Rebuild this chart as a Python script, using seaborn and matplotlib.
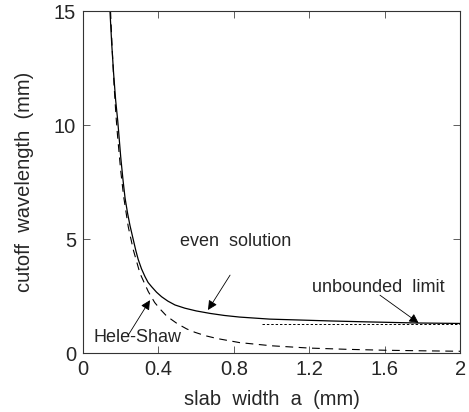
import matplotlib
matplotlib.use("Agg")
import matplotlib.pyplot as plt
import seaborn as sns
import pandas as pd

# even solution (solid)
even_a = [0.143, 0.152, 0.162, 0.173, 0.184, 0.20, 0.212, 0.223, 0.236, 0.249, 0.267, 0.28, 0.293,
          0.31, 0.329, 0.345, 0.364, 0.39, 0.417, 0.45, 0.488, 0.54, 0.60, 0.674, 0.75, 0.83,
          0.99, 1.15, 1.31, 1.5, 1.77, 2.0]
even_l = [15.0, 13.6, 12.3, 11.1, 10.2, 8.6, 7.6, 6.8, 6.15, 5.6, 4.96, 4.5, 4.1,
          3.7, 3.35, 3.1, 2.91, 2.67, 2.47, 2.28, 2.11, 1.97, 1.85, 1.74, 1.65, 1.58,
          1.49, 1.45, 1.41, 1.37, 1.32, 1.30]

# Hele-Shaw (dashed)
hs_a = [0.146, 0.155, 0.165, 0.175, 0.184, 0.20, 0.215, 0.24, 0.267, 0.302, 0.346, 0.38, 0.41,
        0.444, 0.50, 0.55, 0.594, 0.65, 0.71, 0.83, 1.0, 1.2, 1.4, 1.6, 1.8, 2.0]
hs_l = [15.0, 13.3, 11.7, 10.4, 9.45, 8.0, 6.9, 5.54, 4.52, 3.5, 2.7, 2.22, 1.92,
        1.62, 1.29, 1.06, 0.91, 0.76, 0.64, 0.46, 0.32, 0.22, 0.165, 0.125, 0.10, 0.08]

# unbounded limit (dotted)
unb_a = [0.95, 2.0]
unb_l = [1.27, 1.27]

x_ticks = [0, 0.4, 0.8, 1.2, 1.6, 2.0]
x_tick_labels = ["0", "0.4", "0.8", "1.2", "1.6", "2"]
y_ticks = [0, 5, 10, 15]

sns.set_style("ticks")
plt.rcParams["font.family"] = ["Liberation Sans", "DejaVu Sans"]
plt.rcParams["xtick.direction"] = "in"
plt.rcParams["ytick.direction"] = "in"

fig = plt.figure(figsize=(4.69, 4.12), dpi=100)
ax = fig.add_axes([0.177, 0.143, 0.804, 0.830])

df_even = pd.DataFrame({"a": even_a, "l": even_l})
df_hs = pd.DataFrame({"a": hs_a, "l": hs_l})
df_unb = pd.DataFrame({"a": unb_a, "l": unb_l})

sns.lineplot(data=df_even, x="a", y="l", ax=ax, color="black", lw=0.9, sort=False)
sns.lineplot(data=df_hs, x="a", y="l", ax=ax, color="black", lw=0.8, sort=False,
             linestyle=(0, (7, 5)))
sns.lineplot(data=df_unb, x="a", y="l", ax=ax, color="black", lw=0.7, linestyle=(0, (2.5, 2)))

ax.set_xlim(0, 2)
ax.set_ylim(0, 15)
ax.set_xticks(x_ticks)
ax.set_xticklabels(x_tick_labels)
ax.set_yticks(y_ticks)
ax.tick_params(axis="both", which="both", direction="in", top=True, right=True,
               labelsize=14.5, length=5, width=0.6, pad=5, color="#444444")
for s in ax.spines.values():
    s.set_visible(True)
    s.set_linewidth(0.8)
    s.set_color("#333333")

ax.set_xlabel("slab  width  a  (mm)", fontsize=14.5, va="center")
ax.set_ylabel("cutoff  wavelength  (mm)", fontsize=14.5, va="center")
ax.xaxis.set_label_coords(0.5, -0.137)
ax.yaxis.set_label_coords(-0.154, 0.5)

arrow = dict(arrowstyle="-|>", color="black", lw=0.6, mutation_scale=14, shrinkA=0, shrinkB=0)
ax.text(0.81, 4.9, "even  solution", fontsize=13, ha="center", va="center")
ax.annotate("", xy=(0.663, 1.89), xytext=(0.78, 3.42), arrowprops=arrow)
ax.text(0.287, 0.70, "Hele-Shaw", fontsize=13, ha="center", va="center")
ax.annotate("", xy=(0.355, 2.32), xytext=(0.24, 0.79), arrowprops=arrow)
ax.text(1.565, 2.89, "unbounded  limit", fontsize=13, ha="center", va="center")
ax.annotate("", xy=(1.78, 1.32), xytext=(1.575, 2.54), arrowprops=arrow)

fig.savefig("out.png", dpi=100)
